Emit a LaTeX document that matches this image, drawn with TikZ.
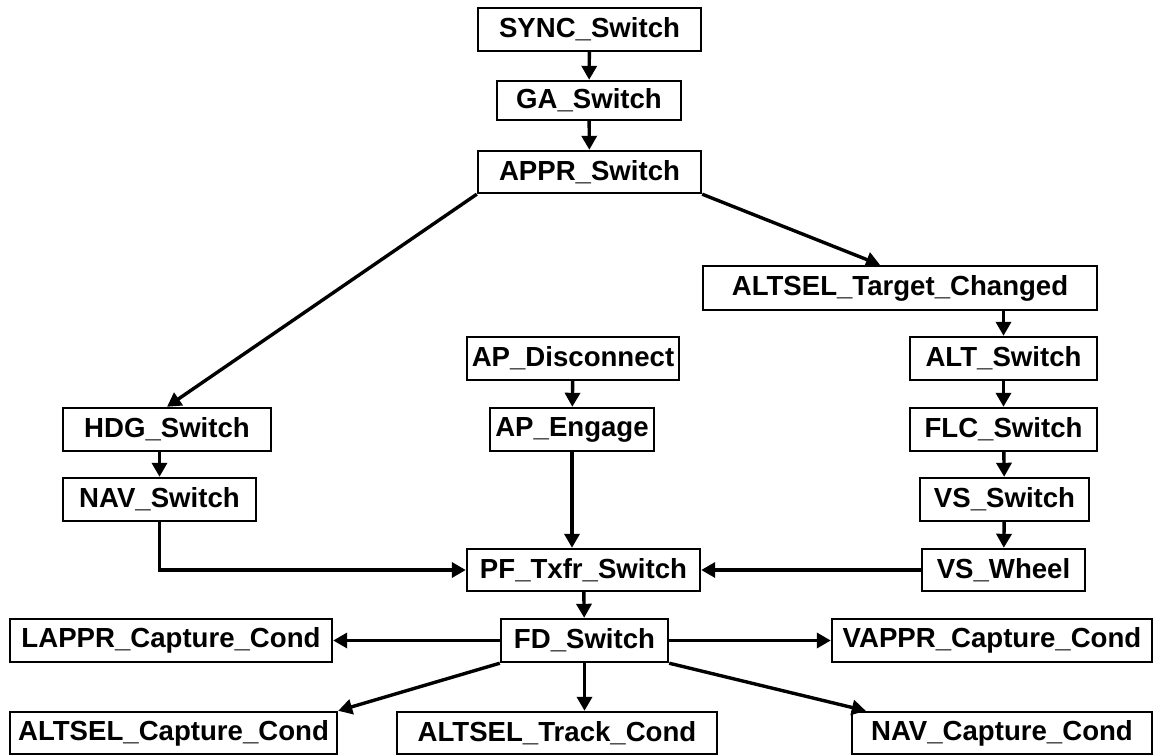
\documentclass[tikz,border=0pt]{standalone}
\usepackage{fontspec}
\setmainfont{Liberation Sans}
\usepackage{tikz}
\usetikzlibrary{arrows.meta}
\tikzset{
  modebox/.style={draw, line width=2.4pt, inner sep=0pt, minimum height=43pt,
    font=\bfseries\fontsize{27.6}{30}\selectfont},
  link/.style={line width=3.4pt, -{Triangle[length=14pt,width=15pt]}}
}

\begin{document}
\begin{tikzpicture}[x=1pt, y=-1pt]
    \useasboundingbox (0,0) rectangle (1161,755);
    % Top chain
    \node[modebox, minimum width=223pt] (sync) at (589.5,29.5) {SYNC\_Switch};
    \node[modebox, minimum width=184pt, minimum height=39pt] (ga) at (589,100.5) {GA\_Switch};
    \node[modebox, minimum width=223pt, minimum height=42pt] (appr) at (589.5,172) {APPR\_Switch};
    % Vertical branch
    \node[modebox, minimum width=394pt, minimum height=44pt] (atc) at (900,288) {ALTSEL\_Target\_Changed};
    \node[modebox, minimum width=187pt] (alt) at (1003.5,358.5) {ALT\_Switch};
    \node[modebox, minimum width=187pt] (flc) at (1003.5,429.5) {FLC\_Switch};
    \node[modebox, minimum width=169pt] (vs) at (1004.5,499.5) {VS\_Switch};
    \node[modebox, minimum width=163pt, minimum height=42pt] (wheel) at (1003.5,570) {VS\_Wheel};
    % Autopilot
    \node[modebox, minimum width=212pt] (apd) at (573,358.5) {AP\_Disconnect};
    \node[modebox, minimum width=164pt] (ape) at (572,429.5) {AP\_Engage};
    % Lateral branch
    \node[modebox, minimum width=208pt] (hdg) at (167,429.5) {HDG\_Switch};
    \node[modebox, minimum width=193pt] (nav) at (159.5,499.5) {NAV\_Switch};
    % Transfer and flight director
    \node[modebox, minimum width=233pt, minimum height=42pt] (pf) at (583.5,570) {PF\_Txfr\_Switch};
    \node[modebox, minimum width=167pt] (fd) at (584.5,640.5) {FD\_Switch};
    \node[modebox, minimum width=322pt] (lappr) at (171,640.5) {LAPPR\_Capture\_Cond};
    \node[modebox, minimum width=320pt] (vappr) at (992,640.5) {VAPPR\_Capture\_Cond};
    \node[modebox, minimum width=327pt, minimum height=42pt] (altcap) at (173.5,733) {ALTSEL\_Capture\_Cond};
    \node[modebox, minimum width=320pt, minimum height=42pt] (trk) at (557,733) {ALTSEL\_Track\_Cond};
    \node[modebox, minimum width=300pt, minimum height=42pt] (navcap) at (1002,733) {NAV\_Capture\_Cond};

    % Connectors
    \draw[link] (sync) -- (ga);
    \draw[link] (ga) -- (appr);
    \draw[link] (appr.south west) -- (hdg.north);
    \draw[link] (appr.south east) -- ([xshift=-20pt]atc.north);
    \draw[link] (atc.south -| alt) -- (alt);
    \draw[link] (alt) -- (flc);
    \draw[link] (flc) -- (vs);
    \draw[link] (vs) -- (wheel);
    \draw[link] (apd) -- (ape);
    \draw[link] (ape) -- (ape |- pf.north);
    \draw[link] (hdg.south -| nav) -- (nav);
    \draw[link] (nav) |- (pf);
    \draw[link] (wheel) -- (pf);
    \draw[link] (pf) -- (fd);
    \draw[link] (fd) -- (lappr);
    \draw[link] (fd) -- (vappr);
    \draw[link] (fd.south west) -- (altcap.north east);
    \draw[link] (fd) -- (fd |- trk.north);
    \draw[link] (fd.south east) -- ([xshift=15pt]navcap.north west);
\end{tikzpicture}
\end{document}
